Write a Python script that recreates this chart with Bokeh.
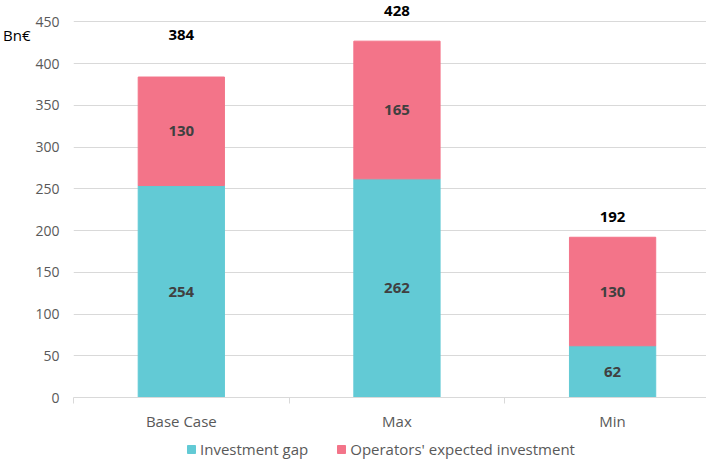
from bokeh.plotting import figure
from bokeh.layouts import column
from bokeh.models import (Range1d, FixedTicker, Legend, LegendItem, LinearAxis,
                          ColumnDataSource, LabelSet)
from bokeh.core.properties import value
from bokeh.embed import file_html
from bokeh.resources import INLINE

# ---- data ----
categories = ["Base Case", "Max", "Min"]
investment_gap = [254, 262, 62]
operators_expected = [130, 165, 130]
totals = [384, 428, 192]
series_names = ["Investment gap", "Operators' expected investment"]
y_ticks = [0, 50, 100, 150, 200, 250, 300, 350, 400, 450]
unit_label = "Bn€"
unit_label_y = 434

# ---- styling ----
TEAL = "#62CAD5"
PINK = "#F37489"
GRID = "#D9D9D9"
TXT = "#595959"
FONT = "Open Sans"
COLORS = [TEAL, PINK]
total_label_offsets = [42, 30, 20]   # px above bar top

xs = [i + 0.5 for i in range(len(categories))]
gap_mid = [g / 2 for g in investment_gap]
ops_mid = [g + o / 2 for g, o in zip(investment_gap, operators_expected)]
tops = [g + o for g, o in zip(investment_gap, operators_expected)]

src = ColumnDataSource(dict(
    x=xs, gap=investment_gap, ops=operators_expected,
    gap_mid=gap_mid, ops_mid=ops_mid, tops=tops,
    gap_txt=[str(v) for v in investment_gap],
    ops_txt=[str(v) for v in operators_expected],
    tot_txt=[str(v) for v in totals],
    tot_off=total_label_offsets,
))

p = figure(width=706, height=438, output_backend="svg", toolbar_location=None,
           x_range=Range1d(0, 637 / 217), y_range=Range1d(0, 475.7),
           min_border_left=69, min_border_right=0, min_border_top=0,
           min_border_bottom=41)
p.outline_line_color = None
p.background_fill_color = "white"
p.border_fill_color = "white"

rs = p.vbar_stack(["gap", "ops"], x="x", width=0.4, source=src, color=COLORS)

# inside labels
for col, ycol in (("gap_txt", "gap_mid"), ("ops_txt", "ops_mid")):
    p.add_layout(LabelSet(x="x", y=ycol, text=col, source=src,
                          text_align="center", text_baseline="middle",
                          text_font=value(FONT), text_font_size=value("15px"),
                          text_font_style="bold", text_color="#404040"))
# totals
p.add_layout(LabelSet(x="x", y="tops", text="tot_txt", source=src,
                      y_offset="tot_off",
                      text_align="center", text_baseline="middle",
                      text_font=value(FONT), text_font_size=value("15px"),
                      text_font_style="bold", text_color="black"))

# y axis
p.yaxis.ticker = FixedTicker(ticks=y_ticks)
p.yaxis.axis_line_color = None
p.yaxis.major_tick_line_color = None
p.yaxis.minor_tick_line_color = None
p.yaxis.major_tick_out = 0
p.yaxis.major_tick_in = 0
p.yaxis.major_label_standoff = 14
p.yaxis.major_label_text_font = FONT
p.yaxis.major_label_text_font_size = "14px"
p.yaxis.major_label_text_color = TXT
p.ygrid.ticker = FixedTicker(ticks=y_ticks)
p.ygrid.grid_line_color = GRID
p.xgrid.grid_line_color = None

# unit axis (second left axis carrying only the unit text)
unit_axis = LinearAxis(ticker=FixedTicker(ticks=[unit_label_y]),
                       major_label_overrides={unit_label_y: unit_label})
unit_axis.axis_line_color = None
unit_axis.major_tick_line_color = None
unit_axis.minor_tick_line_color = None
unit_axis.major_tick_out = 0
unit_axis.major_tick_in = 0
unit_axis.major_label_standoff = 2
unit_axis.major_label_text_font = FONT
unit_axis.major_label_text_font_size = "15px"
unit_axis.major_label_text_color = "black"
p.add_layout(unit_axis, "left")

# x axis
p.xaxis.ticker = FixedTicker(ticks=xs, minor_ticks=list(range(len(categories) + 1)))
p.xaxis.major_label_overrides = {x: c for x, c in zip(xs, categories)}
p.xaxis.axis_line_color = GRID
p.xaxis.major_tick_line_color = None
p.xaxis.major_tick_out = 0
p.xaxis.major_tick_in = 0
p.xaxis.minor_tick_line_color = GRID
p.xaxis.minor_tick_out = 6
p.xaxis.minor_tick_in = 0
p.xaxis.major_label_standoff = 7
p.xaxis.major_label_text_font = FONT
p.xaxis.major_label_text_font_size = "15px"
p.xaxis.major_label_text_color = TXT

# legend strip below the chart (key renderers sit outside the visible range)
lg = figure(width=706, height=21, output_backend="svg", toolbar_location=None,
            x_axis_location=None, y_axis_location=None,
            x_range=Range1d(0, 1), y_range=Range1d(0, 1),
            min_border_left=0, min_border_right=0, min_border_top=0,
            min_border_bottom=0)
lg.outline_line_color = None
lg.grid.visible = False
key_src = ColumnDataSource(dict(x=[-5.0], top=[-5.0]))
keys = [lg.vbar(x="x", top="top", bottom=-6, width=0.1, color=c, source=key_src)
        for c in COLORS]
legend = Legend(items=[LegendItem(label=n, renderers=[r]) for n, r in zip(series_names, keys)],
                orientation="horizontal", location=(113, 0),
                glyph_width=10, glyph_height=10, label_standoff=4, spacing=28,
                label_height=16,
                label_text_font=FONT, label_text_font_size="15px",
                label_text_color=TXT, border_line_color=None,
                background_fill_alpha=0, padding=0, margin=0)
lg.add_layout(legend, "center")

layout = column(p, lg, spacing=0)
open("out.html", "w").write(file_html(layout, INLINE))
